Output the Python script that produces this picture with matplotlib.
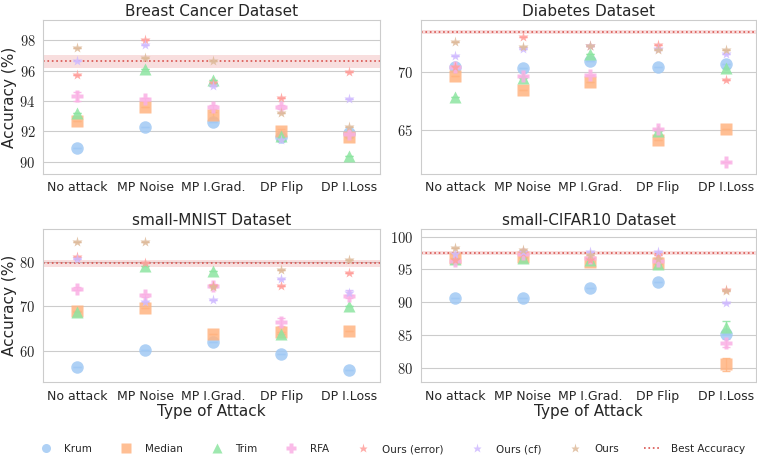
import numpy as np
import matplotlib
matplotlib.use("Agg")
import matplotlib.pyplot as plt
import seaborn as sns
from matplotlib.ticker import FuncFormatter
from matplotlib.lines import Line2D

sns.set_style("whitegrid")
plt.rcParams["font.family"] = ["DejaVu Sans"]
plt.rcParams["mathtext.fontset"] = "cm"

attacks = ["No attack", "MP Noise", "MP I.Grad.", "DP Flip", "DP I.Loss"]
methods = ["Krum", "Median", "Trim", "RFA", "Ours (error)", "Ours (cf)", "Ours"]

# accuracy values per dataset, one list per method (order of attacks)
breast = {
    "Krum":         [90.9, 92.3, 92.6, 91.6, 91.9],
    "Median":       [92.7, 93.6, 93.1, 92.0, 91.6],
    "Trim":         [93.2, 96.1, 95.4, 91.7, 90.4],
    "RFA":          [94.3, 94.1, 93.6, 93.6, 91.8],
    "Ours (error)": [95.7, 98.0, 95.2, 94.2, 95.9],
    "Ours (cf)":    [96.6, 97.7, 95.0, 91.4, 94.1],
    "Ours":         [97.5, 96.8, 96.6, 93.2, 92.3],
}
diabetes = {
    "Krum":         [70.5, 70.4, 71.0, 70.5, 70.7],
    "Median":       [69.7, 68.5, 69.2, 64.1, 65.1],
    "Trim":         [67.9, 69.5, 71.6, 64.9, 70.4],
    "RFA":          [70.5, 69.7, 69.8, 65.1, 62.2],
    "Ours (error)": [70.5, 73.1, 72.3, 72.4, 69.3],
    "Ours (cf)":    [71.4, 72.0, 72.3, 72.0, 71.6],
    "Ours":         [72.6, 72.2, 72.3, 71.9, 71.9],
}
mnist = {
    "Krum":         [56.3, 60.2, 61.9, 59.2, 55.8],
    "Median":       [69.0, 69.6, 63.7, 64.3, 64.5],
    "Trim":         [68.7, 78.9, 77.8, 63.7, 70.0],
    "RFA":          [73.9, 72.4, 74.6, 66.5, 72.2],
    "Ours (error)": [81.0, 79.6, 74.6, 74.6, 77.4],
    "Ours (cf)":    [80.5, 71.0, 71.3, 76.0, 73.0],
    "Ours":         [84.4, 84.4, 74.4, 78.0, 80.3],
}
cifar = {
    "Krum":         [90.6, 90.7, 92.1, 93.0, 85.2],
    "Median":       [96.7, 96.9, 96.1, 95.9, 80.5],
    "Trim":         [96.6, 96.7, 96.4, 95.8, 86.2],
    "RFA":          [96.3, 97.3, 96.7, 96.2, 83.8],
    "Ours (error)": [96.5, 97.5, 96.4, 97.2, 91.8],
    "Ours (cf)":    [97.4, 97.6, 97.6, 97.6, 89.8],
    "Ours":         [98.2, 97.9, 97.2, 96.6, 91.7],
}
# standard deviations where visible (others zero)
breast_err = {"RFA": [0.3, 0.1, 0.15, 0.15, 0.1], "Median": [0, 0, 0.2, 0.15, 0]}
diabetes_err = {}
mnist_err = {"RFA": [0.3, 0.4, 0.3, 0.9, 0.4], "Ours (cf)": [0, 0, 0, 0, 0.6]}
cifar_err = {"Median": [0, 0, 0, 0, 1.0], "Trim": [0, 0, 0, 0, 0.9], "RFA": [0, 0, 0, 0, 0.6]}

titles = ["Breast Cancer Dataset", "Diabetes Dataset", "small-MNIST Dataset", "small-CIFAR10 Dataset"]
best = [96.6, 73.5, 79.6, 97.45]
best_std = [0.4, 0.15, 0.8, 0.3]
ylims = [(89.2, 99.3), (61.2, 74.5), (53.0, 87.2), (77.8, 101.1)]
yticks = [[90, 92, 94, 96, 98], [65, 70], [60, 70, 80], [80, 85, 90, 95, 100]]

pal = sns.color_palette("pastel")
colors = {"Krum": pal[0], "Median": pal[1], "Trim": pal[2], "RFA": pal[6],
          "Ours (error)": pal[3], "Ours (cf)": pal[4], "Ours": pal[5]}
markers = {"Krum": "o", "Median": "s", "Trim": "^", "RFA": "P",
           "Ours (error)": "*", "Ours (cf)": "*", "Ours": "*"}
msize = {"Krum": 9, "Median": 9, "Trim": 9, "RFA": 9,
         "Ours (error)": 8, "Ours (cf)": 8, "Ours": 8}

fig = plt.figure(figsize=(7.57, 4.55), dpi=100)
boxes = [(0.057, 0.618, 0.445, 0.337), (0.556, 0.618, 0.443, 0.337),
         (0.057, 0.160, 0.445, 0.336), (0.556, 0.160, 0.443, 0.336)]

data_all = [breast, diabetes, mnist, cifar]
err_all = [breast_err, diabetes_err, mnist_err, cifar_err]
for i, (data, errs) in enumerate(zip(data_all, err_all)):
    ax = fig.add_axes(boxes[i])
    for m in methods:
        yerr = errs.get(m, [0] * len(attacks))
        ax.errorbar(attacks, data[m], yerr=yerr, fmt=markers[m], color=colors[m],
                    ms=msize[m], alpha=0.85, capsize=3, elinewidth=1, mec="none",
                    label=m, zorder=3)
    ax.axhline(best[i], color="#d9534f", ls=":", lw=1.2, zorder=2)
    ax.axhspan(best[i] - best_std[i], best[i] + best_std[i], color="#d62728", alpha=0.15,
               lw=0, zorder=1)
    ax.set_xlim(-0.5, 4.45)
    ax.set_ylim(*ylims[i])
    ax.set_yticks(yticks[i])
    ax.yaxis.set_major_formatter(FuncFormatter(lambda v, p: r"$%d$" % v))
    ax.xaxis.grid(False)
    ax.set_title(titles[i], fontsize=11, pad=3)
    ax.tick_params(axis="x", labelsize=9, pad=2)
    ax.tick_params(axis="y", labelsize=10.5, pad=2)
    for s in ax.spines.values():
        s.set_color("#cccccc")
    if i % 2 == 0:
        ax.set_ylabel("Accuracy (%)", fontsize=11, labelpad=2)
    if i >= 2:
        ax.set_xlabel("Type of Attack", fontsize=11, labelpad=1)

handles = [Line2D([], [], ls="none", marker=markers[m], color=colors[m], ms=6.5, mec="none",
                  alpha=0.85) for m in methods]
handles.append(Line2D([], [], color="#d9534f", ls=":", lw=1.2))
fig.legend(handles, methods + ["Best Accuracy"], loc="center", bbox_to_anchor=(0.517, 0.013),
           ncol=8, frameon=False, fontsize=7.5, columnspacing=2.45, handlelength=1.6,
           handletextpad=1.0)

fig.savefig("out.png", dpi=100)
